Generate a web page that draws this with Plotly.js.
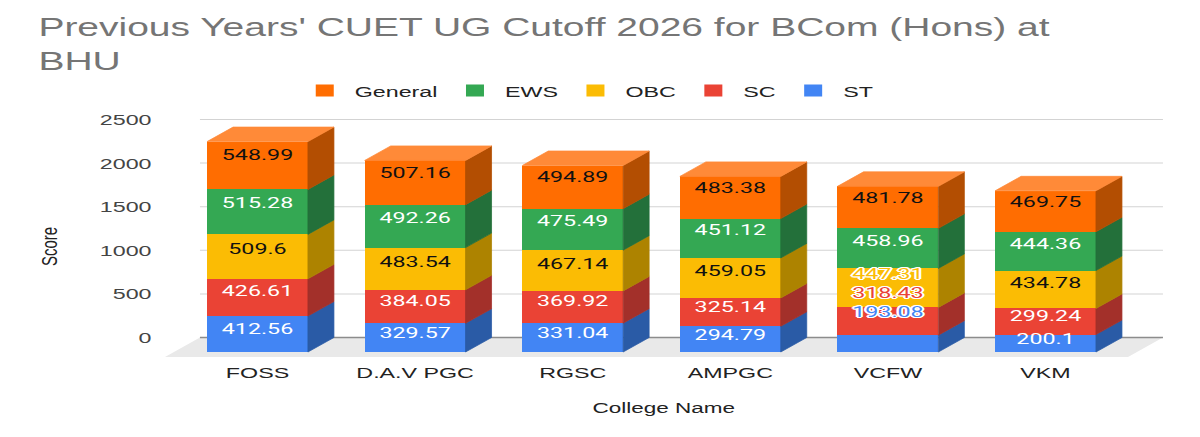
<!DOCTYPE html>
<html>
<head>
<meta charset="utf-8">
<script src="https://cdn.plot.ly/plotly-3.0.1.min.js"></script>
<style>
  html, body { margin: 0; padding: 0; background: #fff; overflow: hidden; }
  #wrap { width: 800px; height: 437px; transform: scaleX(1.5); transform-origin: 0 0; }
  #chart { width: 800px; height: 437px; }
</style>
</head>
<body>
<div id="wrap"><div id="chart"></div></div>
<script>
// ---------------- DATA ----------------
const colleges = ['FOSS', 'D.A.V PGC', 'RGSC', 'AMPGC', 'VCFW', 'VKM'];
const general = [548.99, 507.16, 494.89, 483.38, 481.78, 469.75];
const ews     = [515.28, 492.26, 475.49, 451.12, 458.96, 444.36];
const obc     = [509.6, 483.54, 467.14, 459.05, 447.31, 434.78];
const sc      = [426.61, 384.05, 369.92, 325.14, 318.43, 299.24];
const st      = [412.56, 329.57, 331.04, 294.79, 193.08, 200.1];
const yTicks  = [0, 500, 1000, 1500, 2000, 2500];
const crowdedCollege = 'VCFW';
const crowdedSeries = ['OBC', 'SC', 'ST'];

// ---------------- STYLE / GEOMETRY ----------------
const FONT = 'Liberation Sans, Arial, sans-serif';
const LABEL_FONT = 'Roboto, Arial, sans-serif';
const W = 800, H = 437;
const plotL = 105, plotR = 780, plotT = 110, plotB = 362;
const pxPerUnitY = 0.0872, pxPerCat = 105.07, firstCenterPx = 171.67;
const frontZeroPx = 352, backZeroPx = 337.5;
const yFrontRange = [(frontZeroPx - plotB) / pxPerUnitY, (frontZeroPx - plotT) / pxPerUnitY];
const yBackRange  = [(backZeroPx - plotB) / pxPerUnitY, (backZeroPx - plotT) / pxPerUnitY];
const xu = px => (px - firstCenterPx) / pxPerCat;
const xRange = [xu(plotL), xu(plotR)];
const depthX = 17.33 / pxPerCat, depthY = 14.5 / pxPerUnitY;
const barW = 0.64;

// stacking order bottom -> top
const stack = [
  {name: 'ST',      vals: st,      color: '#4285f4', side: '#2a5ba6', label: '#ffffff'},
  {name: 'SC',      vals: sc,      color: '#ea4335', side: '#a3302a', label: '#ffffff'},
  {name: 'OBC',     vals: obc,     color: '#fbbc04', side: '#ad8300', label: '#111111'},
  {name: 'EWS',     vals: ews,     color: '#34a853', side: '#23703a', label: '#ffffff'},
  {name: 'General', vals: general, color: '#ff6d01', side: '#b34e02', label: '#111111', top: '#ff8a38'}
];

const idx = colleges.map((_, i) => i);
const crowdedIdx = colleges.indexOf(crowdedCollege);
const bases = stack.map(() => []);
const running = idx.map(() => 0);
stack.forEach((s, k) => { idx.forEach(i => { bases[k][i] = running[i]; running[i] += s.vals[i]; }); });

const traces = [];
// front faces
stack.forEach(s => {
  traces.push({
    type: 'bar', name: s.name, x: idx, y: s.vals, width: barW,
    marker: {color: s.color, line: {width: 0}}, hoverinfo: 'skip'
  });
});
// side faces
stack.forEach((s, k) => {
  const xs = [], ys = [];
  idx.forEach(i => {
    const xr = i + barW / 2, yb = bases[k][i], yt = yb + s.vals[i];
    xs.push(xr, xr + depthX, xr + depthX, xr, xr, null);
    ys.push(yb, yb + depthY, yt + depthY, yt, yb, null);
  });
  traces.push({type: 'scatter', mode: 'lines', x: xs, y: ys, fill: 'toself',
    fillcolor: s.side, line: {color: s.side, width: 0.6}, showlegend: false, hoverinfo: 'skip'});
});
// top faces
(function () {
  const s = stack[stack.length - 1];
  const xs = [], ys = [];
  idx.forEach(i => {
    const xl = i - barW / 2, xr = i + barW / 2, t = running[i];
    xs.push(xl, xl + depthX, xr + depthX, xr, xl, null);
    ys.push(t, t + depthY, t + depthY, t, t, null);
  });
  traces.push({type: 'scatter', mode: 'lines', x: xs, y: ys, fill: 'toself',
    fillcolor: s.top, line: {color: s.top, width: 0.6}, showlegend: false, hoverinfo: 'skip'});
})();
// value labels
stack.forEach((s, k) => {
  const xs = [], ys = [], ts = [];
  idx.forEach(i => {
    if (i === crowdedIdx && crowdedSeries.includes(s.name)) return;
    const mid = bases[k][i] + s.vals[i] / 2;
    const liftPx = 3 + 0.003 * mid;
    xs.push(i); ys.push(mid + liftPx / pxPerUnitY); ts.push(String(s.vals[i]));
  });
  traces.push({type: 'scatter', mode: 'text', x: xs, y: ys, text: ts, textposition: 'middle center',
    textfont: {family: LABEL_FONT, size: 15.5, color: s.label}, showlegend: false, hoverinfo: 'skip', cliponaxis: false});
});
// crowded labels (outlined, stacked)
(function () {
  const kObc = stack.findIndex(s => s.name === 'OBC');
  const anchor = bases[kObc][crowdedIdx] + obc[crowdedIdx];
  const xs = [], ys = [], ts = [], cs = [];
  crowdedSeries.forEach((nm, j) => {
    const s = stack.find(q => q.name === nm);
    xs.push(crowdedIdx);
    ys.push(anchor - (7 + 19 * j) / pxPerUnitY);
    ts.push(String(s.vals[crowdedIdx]));
    cs.push(s.color);
  });
  const o = '#ffffff';
  traces.push({type: 'scatter', mode: 'text', x: xs, y: ys, text: ts, textposition: 'middle center',
    textfont: {family: LABEL_FONT, size: 15.5, color: cs,
      shadow: `1px 0 0 ${o}, -1px 0 0 ${o}, 0 1px 0 ${o}, 0 -1px 0 ${o}, 1px 1px 0 ${o}, -1px -1px 0 ${o}, 1px -1px 0 ${o}, -1px 1px 0 ${o}, 2px 0 0 ${o}, -2px 0 0 ${o}`},
    showlegend: false, hoverinfo: 'skip', cliponaxis: false});
})();

// decorations: floor, gridlines
const gridX0 = xu(133.3), gridX1 = xu(775.3);
const floorFrontY = (frontZeroPx - 357) / pxPerUnitY;
const floorBackY = (frontZeroPx - backZeroPx) / pxPerUnitY;
const shapes = [{
  type: 'path', xref: 'x', yref: 'y', layer: 'below',
  path: `M ${gridX0},${floorBackY} L ${gridX1},${floorBackY} L ${xu(752)},${floorFrontY} L ${xu(110)},${floorFrontY} Z`,
  fillcolor: '#e9e9e9', line: {width: 0}
}];
yTicks.forEach(t => {
  shapes.push({type: 'line', xref: 'x', yref: 'y2', layer: 'below', x0: gridX0, x1: gridX1, y0: t, y1: t,
    line: {color: t === 0 ? '#8c8c8c' : '#d3d3d3', width: t === 0 ? 1.6 : 1}});
});

const layout = {
  width: W, height: H,
  margin: {l: plotL, r: W - plotR, t: plotT, b: H - plotB, pad: 0},
  paper_bgcolor: '#ffffff', plot_bgcolor: 'rgba(0,0,0,0)',
  barmode: 'stack', bargap: 0,
  showlegend: true,
  hovermode: false,
  title: {
    text: "Previous Years' CUET UG Cutoff 2026 for BCom (Hons) at<br>BHU",
    font: {family: FONT, size: 26, color: '#757575'},
    xref: 'container', yref: 'container', x: 25.6 / W, xanchor: 'left',
    y: 1 - 36 / H, yanchor: 'middle'
  },
  legend: {
    orientation: 'h', xref: 'container', yref: 'container',
    x: 0.49, xanchor: 'center', y: 1 - 91 / H, yanchor: 'middle',
    traceorder: 'reversed', font: {family: FONT, size: 15.5, color: '#222'},
    bgcolor: 'rgba(0,0,0,0)'
  },
  xaxis: {
    range: xRange, tickmode: 'array', tickvals: idx, ticktext: colleges,
    showgrid: false, zeroline: false, showline: false, ticks: '',
    tickfont: {family: FONT, size: 15.5, color: '#222'}, fixedrange: true
  },
  yaxis: {range: yFrontRange, visible: false, showgrid: false, zeroline: false, fixedrange: true},
  yaxis2: {
    range: yBackRange, overlaying: 'y', side: 'left', anchor: 'x',
    tickmode: 'array', tickvals: yTicks, ticks: '', ticklabelstandoff: 3,
    showgrid: false, zeroline: false, showline: false,
    tickfont: {family: FONT, size: 15.5, color: '#444'}, fixedrange: true
  },
  shapes: shapes,
  annotations: [
    {text: 'College Name', xref: 'paper', yref: 'paper', x: 0.5, xanchor: 'center',
     y: (plotB - 407) / (plotB - plotT), yanchor: 'middle', showarrow: false,
     font: {family: FONT, size: 15, color: '#222'}},
    {text: 'Score', xref: 'paper', yref: 'paper', x: (32 - plotL) / (plotR - plotL), xanchor: 'center',
     y: (plotB - 247) / (plotB - plotT), yanchor: 'middle', textangle: -90, showarrow: false,
     font: {family: FONT, size: 15, color: '#222'}}
  ]
};

Plotly.newPlot('chart', traces, layout, {staticPlot: true, displayModeBar: false});
</script>
</body>
</html>
